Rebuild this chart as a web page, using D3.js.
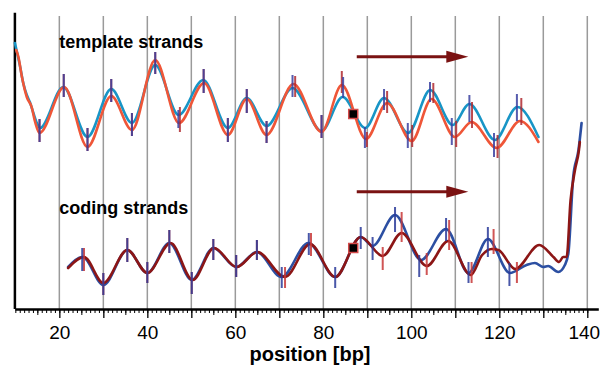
<!DOCTYPE html>
<html>
<head>
<meta charset="utf-8">
<script src="https://cdn.jsdelivr.net/npm/d3@7/dist/d3.min.js"></script>
<style>
  body { margin: 0; background: #fff; }
  svg { display: block; font-family: "Liberation Sans", Arial, Helvetica, sans-serif; }
</style>
</head>
<body>
<svg id="chart" width="602" height="370"></svg>
<script>
// signal profiles, [position bp, signal]
var templateCyan = [[9.9,266],[11.1,242],[11.8,226],[12.6,214],[13.3,207],[14.1,196],[14.9,186],[15.6,181],
  [20.9,222],[26.4,172],[31.8,220],[36.5,186],[41.8,244],[47.1,194],[52.7,229],[58.3,181],[62.6,211],
  [67.1,183],[73.0,221],[79.6,178],[84.4,212],[89.5,181],[93.8,211],[99.3,176],[104.3,219],[109.4,184],
  [113.2,205],[119.0,169],[124.1,202],[128.9,172]];
var templateRed = [[10.2,259],[10.7,252],[11.5,232],[12.6,212],[13.7,202],[14.5,187],[15.5,176],
  [21.1,222],[26.4,162],[31.8,213],[36.5,179],[41.8,249],[47.2,186],[52.9,226],[58.3,174],[62.6,210],
  [67.1,174],[73.2,225],[79.6,177],[84.2,224],[89.7,170],[94.5,206],[100.1,168],[104.6,210],[109.9,172],
  [113.7,187],[119.4,161],[124.7,188],[128.9,167]];
var codingBlue = [[22.0,42],[25.3,52],[30.0,24],[35.45,59],[40.0,36],[45.0,66],[50.1,29],[55.0,61],
  [60.2,42],[64.9,57],[70.5,32],[76.6,66],[82.7,32],[88.5,72],[91.2,63],[96.3,94],[102.2,49],[107.9,80],
  [113.0,36],[117.4,70],[122.4,36],[126.2,44],[128.1,46],[130.0,42],[131.1,43],[133.4,37],[134.9,44],
  [135.7,56],[136.8,132],[138.0,159],[138.7,186]];
var codingRed = [[22.0,41],[25.6,52],[30.0,26],[35.45,59],[40.0,36],[45.3,66],[50.3,29],[55.15,61],
  [60.3,42],[65.0,57],[71.3,32],[77.0,65],[82.7,32],[88.5,72],[93.5,53],[97.8,76],[103.5,43],[108.4,68],
  [113.5,34],[116.1,54],[118.3,60],[119.8,59],[123.6,40],[129.1,64],[132.3,52],[133.6,47],[134.5,52],
  [135.3,52],[136.2,109],[137.2,139],[138.1,159],[138.3,167]];

// error bars, [position bp, top, bottom]
var templateBarsBlue = [[15.5,190,167],[21.0,235,212],[26.4,181,158],[31.8,230,207],[36.5,196,173],
  [41.8,257,235],[47.05,199,181],[52.8,240,216],[58.3,191,167],[62.6,220,196],[67.1,188,166],
  [73.0,234,212],[79.6,194,171],[84.5,232,211],[89.45,182,161],[93.8,220,199],[99.2,186,161],
  [104.25,227,207],[109.2,191,164],[113.2,214,187],[118.8,176,152],[124.0,215,188]];
var templateBarsRed = [[15.5,190,167],[21.0,235,212],[26.4,181,158],[31.8,230,207],[36.5,196,173],
  [41.8,257,235],[47.4,202,177],[52.8,240,216],[58.3,191,167],[62.6,220,196],[67.1,188,166],
  [73.6,233,212],[79.6,194,171],[84.2,238,216],[89.9,177,162],[94.5,218,196],[100.2,184,162],
  [105.0,226,206],[110.2,188,162],[113.8,207,181],[119.6,174,151],[125.0,211,184]];
var codingBarsBlue = [[25.2,61,38],[30.0,36,14],[35.45,71,47],[40.0,47,26],[45.0,79,56],[50.1,37,15],
  [55.0,70,49],[60.2,54,32],[64.9,69,49],[70.55,42,21],[76.7,76,54],[82.7,42,21],[88.5,82,60],
  [91.2,72,49],[96.3,102,77],[101.8,54,32],[107.9,91,68],[113.0,47,26],[117.4,82,52],[122.3,46,23]];
var codingBarsRed = [[25.6,61,38],[30.0,36,14],[35.45,71,47],[40.0,47,26],[45.0,79,56],[50.1,37,15],
  [55.0,70,49],[60.2,54,32],[64.9,69,49],[71.3,42,21],[77.2,76,53],[93.5,62,39],[97.8,97,67],
  [103.5,56,34],[108.6,89,59],[113.7,47,26],[118.7,80,55],[124.0,47,26]];

// shift markers and direction arrows
var markers = [[86.8,195],[86.8,61]];
var arrows = [[87.6,112.95,252.3],[87.6,112.95,117.3]];

var gridTicks = d3.range(20, 141, 10);
var labelTicks = d3.range(20, 141, 20);

var svg = d3.select("#chart");
var x = d3.scaleLinear().domain([9.9, 142.5]).range([14.9, 598.3]);
var y = d3.scaleLinear().domain([0, 300]).range([309, 9]);

// vertical grid
svg.append("g").selectAll("line")
    .data(gridTicks)
    .enter().append("line")
    .attr("x1", d => x(d)).attr("x2", d => x(d))
    .attr("y1", y(293)).attr("y2", y(0))
    .attr("stroke", "#9a9a9a")
    .attr("stroke-width", 1.5);

// left axis line
svg.append("line")
    .attr("x1", x(9.9)).attr("x2", x(9.9))
    .attr("y1", y(296.3)).attr("y2", y(0))
    .attr("stroke", "#000")
    .attr("stroke-width", 2.5);

// labels
svg.append("text")
    .attr("x", x(20)).attr("y", y(261))
    .attr("font-size", 18).attr("font-weight", "bold")
    .text("template strands");
svg.append("text")
    .attr("x", x(20)).attr("y", y(95))
    .attr("font-size", 18).attr("font-weight", "bold")
    .text("coding strands");

var line = d3.line()
    .x(d => x(d[0]))
    .y(d => y(d[1]))
    .curve(d3.curveMonotoneX);

function drawLine(data, color) {
  svg.append("path")
      .datum(data)
      .attr("fill", "none")
      .attr("stroke", color)
      .attr("stroke-width", 2.6)
      .attr("stroke-linejoin", "round")
      .attr("stroke-linecap", "round")
      .attr("d", line);
}

function drawBars(data, color) {
  svg.append("g").selectAll("line")
      .data(data)
      .enter().append("line")
      .attr("x1", d => x(d[0])).attr("x2", d => x(d[0]))
      .attr("y1", d => y(d[1])).attr("y2", d => y(d[2]))
      .attr("stroke", color)
      .attr("stroke-width", 2)
      .attr("opacity", 0.85);
}

drawLine(templateCyan, "#1895c6");
drawLine(templateRed, "#ef5638");
drawLine(codingBlue, "#2c4fa2");
drawLine(codingRed, "#8c1616");

drawBars(templateBarsRed, "#b02a30");
drawBars(templateBarsBlue, "#3a40a0");
drawBars(codingBarsRed, "#c83838");
drawBars(codingBarsBlue, "#2a3a9a");

// arrows
arrows.forEach(function(a) {
  var yy = y(a[2]), tip = x(a[1]);
  svg.append("line")
      .attr("x1", x(a[0])).attr("x2", tip - 18)
      .attr("y1", yy).attr("y2", yy)
      .attr("stroke", "#7a1212")
      .attr("stroke-width", 3);
  svg.append("path")
      .attr("d", "M" + (tip - 22) + "," + (yy - 6) + "L" + tip + "," + yy + "L" + (tip - 22) + "," + (yy + 6) + "Z")
      .attr("fill", "#7a1212");
});

// markers
svg.append("g").selectAll("rect")
    .data(markers)
    .enter().append("rect")
    .attr("x", d => x(d[0]) - 4.5).attr("y", d => y(d[1]) - 4.5)
    .attr("width", 9).attr("height", 9)
    .attr("fill", "#000")
    .attr("stroke", "#d44a4a")
    .attr("stroke-width", 1.5);

// bottom axis
var axisG = svg.append("g").attr("transform", "translate(0," + y(0) + ")");
axisG.append("g")
    .call(d3.axisBottom(x).tickValues(d3.range(10, 141, 1)).tickSize(4).tickSizeOuter(0).tickFormat(""))
    .call(g => g.select(".domain").attr("stroke-width", 2.5))
    .call(g => g.selectAll(".tick line").attr("stroke-width", 1));
axisG.append("g")
    .call(d3.axisBottom(x).tickValues(d3.range(15, 141, 10)).tickSize(6).tickFormat(""))
    .call(g => g.select(".domain").remove());
axisG.append("g")
    .call(d3.axisBottom(x).tickValues(gridTicks).tickSize(9).tickFormat(""))
    .call(g => g.select(".domain").remove())
    .call(g => g.selectAll(".tick line").attr("stroke-width", 1.3));
axisG.append("g")
    .call(d3.axisBottom(x).tickValues(labelTicks).tickSize(0).tickPadding(16.5))
    .call(g => g.select(".domain").remove())
    .call(g => g.selectAll("text").attr("font-size", 19).attr("font-family", "Liberation Sans, Arial, sans-serif").attr("fill", "#000"))
    // last label sits a little left so it stays inside the frame
    .call(g => g.selectAll("text").filter(d => d === 140).attr("dx", -3.5));

svg.append("text")
    .attr("x", 310).attr("y", 361)
    .attr("text-anchor", "middle")
    .attr("font-size", 20).attr("font-weight", "bold")
    .text("position [bp]");
</script>
</body>
</html>
